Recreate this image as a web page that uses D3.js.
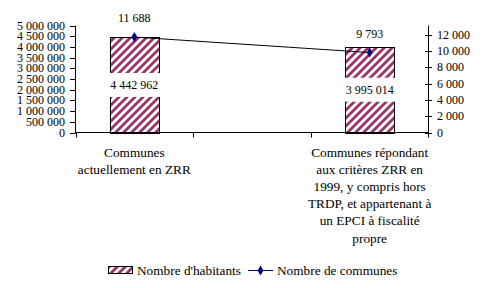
<!DOCTYPE html>
<html>
<head>
<meta charset="utf-8">
<script src="https://cdnjs.cloudflare.com/ajax/libs/d3/7.8.5/d3.min.js"></script>
<style>
  body { margin: 0; background: #fff; }
  text { font-family: "Liberation Serif", "Times New Roman", serif; font-size: 12px; fill: #000; }
  text.big { font-size: 13.3px; }
</style>
</head>
<body>
<script>
// categories (the middle slot is empty in the original chart)
var categories = [
  ["Communes", "actuellement en ZRR"],
  [],
  ["Communes répondant", "aux critères ZRR en", "1999, y compris hors", "TRDP, et appartenant à", "un EPCI à fiscalité", "propre"]
];
var habitants = [4442962, null, 3995014];
var communes = [11688, null, 9793];
var habitantsLabels = ["4 442 962", "", "3 995 014"];
var communesLabels = ["11 688", "", "9 793"];
var leftTicks = [0, 500000, 1000000, 1500000, 2000000, 2500000, 3000000, 3500000, 4000000, 4500000, 5000000];
var rightTicks = [0, 2000, 4000, 6000, 8000, 10000, 12000];

var width = 488,
  height = 288;

var fmt = function(d) { return d3.format(",")(d).replace(/,/g, " "); };

var svg = d3.select("body").append("svg")
  .attr("width", width)
  .attr("height", height);

// hatch pattern for the bars
var defs = svg.append("defs");
var pat = defs.append("pattern")
  .attr("id", "hatch")
  .attr("patternUnits", "userSpaceOnUse")
  .attr("width", 8)
  .attr("height", 8);
pat.append("rect").attr("width", 8).attr("height", 8).attr("fill", "#fff");
pat.append("path")
  .attr("d", "M-2,2 L2,-2 M0,8 L8,0 M6,10 L10,6")
  .attr("stroke", "#993366")
  .attr("stroke-width", 2.8);

var idx = d3.range(categories.length);

var x = d3.scaleBand()
  .domain(idx)
  .range([75.5, 428.5])
  .padding(0);

var yLeft = d3.scaleLinear()
  .domain([0, 5000000])
  .range([132.5, 25.5]);

var yRight = d3.scaleLinear()
  .domain([0, 12000])
  .range([132.5, 34.5]);

var barW = x.bandwidth() * 0.415;

// bars
var bars = svg.selectAll(".bar")
    .data(idx.filter(function(i) { return habitants[i] != null; }))
  .enter().append("g")
    .attr("class", "bar");

bars.append("rect")
  .attr("x", function(i) { return Math.round(x(i) + x.bandwidth() / 2 - barW / 2) + 0.5; })
  .attr("y", function(i) { return Math.round(yLeft(habitants[i])) + 0.5; })
  .attr("width", Math.round(barW))
  .attr("height", function(i) { return Math.round(yLeft(0)) - Math.round(yLeft(habitants[i])); })
  .attr("fill", "url(#hatch)")
  .attr("stroke", "#000")
  .attr("stroke-width", 1);

// bar value labels on white boxes
bars.each(function(i) {
  var g = d3.select(this);
  var cx = x(i) + x.bandwidth() / 2;
  var cy = (yLeft(habitants[i]) + yLeft(0)) / 2;
  var t = g.append("text")
    .attr("x", cx)
    .attr("y", cy + 4)
    .attr("text-anchor", "middle")
    .text(habitantsLabels[i]);
  var w = t.node().getComputedTextLength();
  g.insert("rect", "text")
    .attr("x", cx - Math.max(w, barW) / 2 - 2)
    .attr("y", cy - 12)
    .attr("width", Math.max(w, barW) + 4)
    .attr("height", 24)
    .attr("fill", "#fff");
});

// axes
var axLeft = svg.append("g");
axLeft.append("line")
  .attr("x1", 75.5).attr("x2", 75.5)
  .attr("y1", yLeft(0)).attr("y2", yLeft(5000000))
  .attr("stroke", "#000");
axLeft.selectAll(".tk")
    .data(leftTicks)
  .enter().append("line")
    .attr("x1", 70).attr("x2", 75.5)
    .attr("y1", function(d) { return Math.round(yLeft(d)) + 0.5; })
    .attr("y2", function(d) { return Math.round(yLeft(d)) + 0.5; })
    .attr("stroke", "#000");
axLeft.selectAll(".lb")
    .data(leftTicks)
  .enter().append("text")
    .attr("x", 65)
    .attr("y", function(d) { return yLeft(d) + 4; })
    .attr("text-anchor", "end")
    .text(fmt);

var axRight = svg.append("g");
axRight.append("line")
  .attr("x1", 428.5).attr("x2", 428.5)
  .attr("y1", yRight(0)).attr("y2", yLeft(5000000))
  .attr("stroke", "#000");
axRight.selectAll(".tk")
    .data(rightTicks)
  .enter().append("line")
    .attr("x1", 425).attr("x2", 432)
    .attr("y1", function(d) { return Math.round(yRight(d)) + 0.5; })
    .attr("y2", function(d) { return Math.round(yRight(d)) + 0.5; })
    .attr("stroke", "#000");
axRight.selectAll(".lb")
    .data(rightTicks)
  .enter().append("text")
    .attr("x", 437)
    .attr("y", function(d) { return yRight(d) + 4; })
    .text(fmt);

// category axis
var axBottom = svg.append("g");
axBottom.append("line")
  .attr("x1", 75).attr("x2", 429)
  .attr("y1", yLeft(0)).attr("y2", yLeft(0))
  .attr("stroke", "#000");
axBottom.selectAll(".tk")
    .data(idx.concat([idx.length]))
  .enter().append("line")
    .attr("x1", function(i) { return i < idx.length ? Math.round(x(i)) + 0.5 : 428.5; })
    .attr("x2", function(i) { return i < idx.length ? Math.round(x(i)) + 0.5 : 428.5; })
    .attr("y1", yLeft(0))
    .attr("y2", yLeft(0) + 5)
    .attr("stroke", "#000");

var catText = axBottom.selectAll(".cat")
    .data(idx)
  .enter().append("text")
    .attr("class", "big")
    .attr("text-anchor", "middle")
    .attr("y", 156.5);
catText.selectAll("tspan")
    .data(function(i) { return categories[i].map(function(s) { return { s: s, i: i }; }); })
  .enter().append("tspan")
    .attr("x", function(d) { return x(d.i) + x.bandwidth() / 2; })
    .attr("dy", function(d, j) { return j === 0 ? 0 : 17.2; })
    .text(function(d) { return d.s; });

// line series on the right axis
var pts = idx.filter(function(i) { return communes[i] != null; });
var line = d3.line()
  .x(function(i) { return x(i) + x.bandwidth() / 2; })
  .y(function(i) { return yRight(communes[i]); });

svg.append("path")
  .datum(pts)
  .attr("d", line)
  .attr("fill", "none")
  .attr("stroke", "#000")
  .attr("stroke-width", 1);

var diamond = d3.symbol().type(d3.symbolDiamond).size(30);

svg.selectAll(".pt")
    .data(pts)
  .enter().append("path")
    .attr("transform", function(i) { return "translate(" + (x(i) + x.bandwidth() / 2) + "," + yRight(communes[i]) + ")"; })
    .attr("d", diamond)
    .attr("fill", "#000080");

svg.selectAll(".ptlb")
    .data(pts)
  .enter().append("text")
    .attr("x", function(i) { return x(i) + x.bandwidth() / 2; })
    .attr("y", function(i) { return yRight(communes[i]) - 15; })
    .attr("text-anchor", "middle")
    .text(function(i) { return communesLabels[i]; });

// legend
var legend = svg.append("g");
legend.append("rect")
  .attr("x", 108.5).attr("y", 266.5)
  .attr("width", 24).attr("height", 7)
  .attr("fill", "url(#hatch)")
  .attr("stroke", "#000");
legend.append("text")
  .attr("class", "big")
  .attr("x", 137).attr("y", 274.5)
  .text("Nombre d'habitants");
legend.append("line")
  .attr("x1", 248).attr("x2", 273)
  .attr("y1", 270.5).attr("y2", 270.5)
  .attr("stroke", "#000080");
legend.append("path")
  .attr("transform", "translate(260.5,270.5)")
  .attr("d", diamond)
  .attr("fill", "#000080");
legend.append("text")
  .attr("class", "big")
  .attr("x", 277).attr("y", 274.5)
  .text("Nombre de communes");
</script>
</body>
</html>
